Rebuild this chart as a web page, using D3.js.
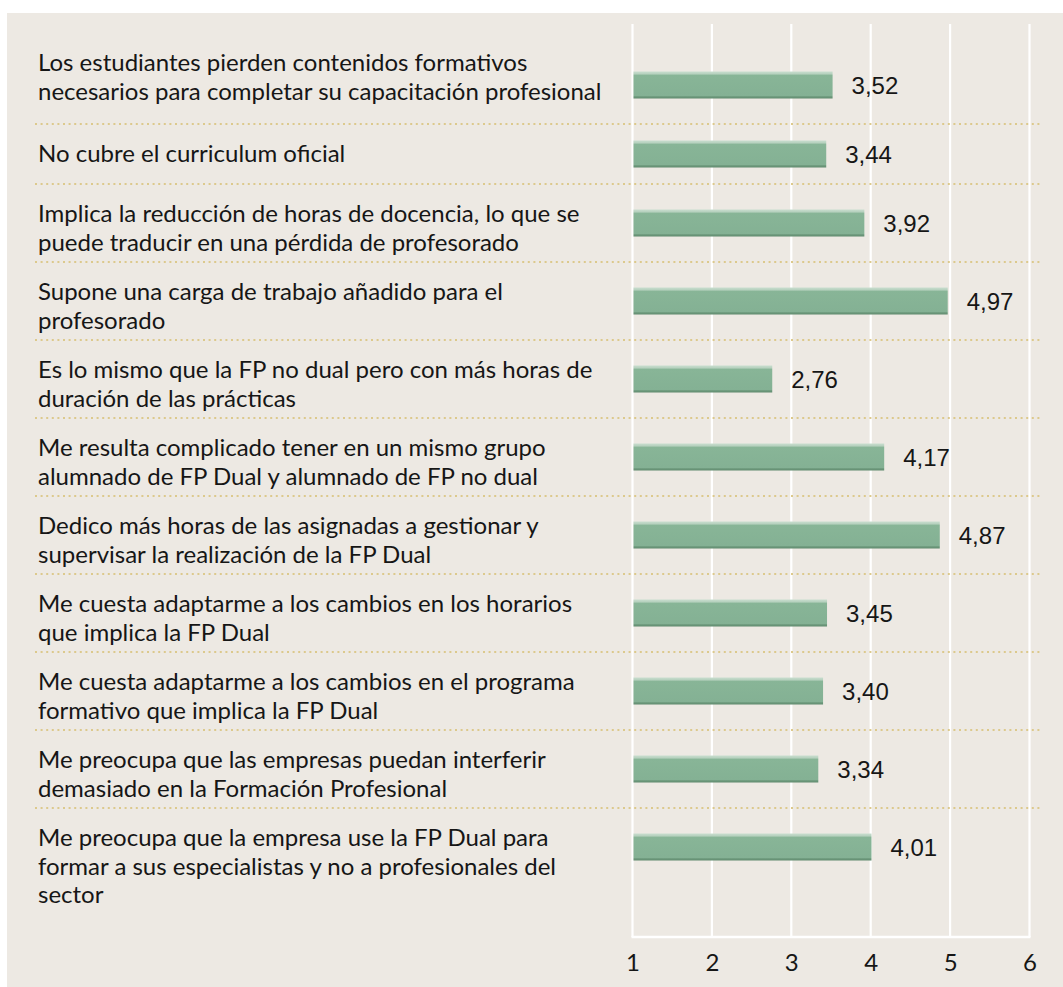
<!DOCTYPE html>
<head>
<meta charset="utf-8">
<title>FP Dual - valoracion</title>
<script src="https://d3js.org/d3.v7.min.js"></script>
<style>
body { margin: 0; background: #ffffff; }
.label { font-family: Lato, "Open Sans", sans-serif; font-size: 24px; fill: #161616; }
.value { font-family: "Liberation Sans", Arial, sans-serif; font-size: 24px; fill: #161616; }
.tick text { font-family: Lato, sans-serif; font-size: 24px; fill: #161616; }
</style>
</head>
<body>
<div id="container"></div>
<script>
//-----------------------------DATA-----------------------------//
const labels = [
  ["Los estudiantes pierden contenidos formativos", "necesarios para completar su capacitación profesional"],
  ["No cubre el curriculum oficial"],
  ["Implica la reducción de horas de docencia, lo que se", "puede traducir en una pérdida de profesorado"],
  ["Supone una carga de trabajo añadido para el", "profesorado"],
  ["Es lo mismo que la FP no dual pero con más horas de", "duración de las prácticas"],
  ["Me resulta complicado tener en un mismo grupo", "alumnado de FP Dual y alumnado de FP no dual"],
  ["Dedico más horas de las asignadas a gestionar y", "supervisar la realización de la FP Dual"],
  ["Me cuesta adaptarme a los cambios en los horarios", "que implica la FP Dual"],
  ["Me cuesta adaptarme a los cambios en el programa", "formativo que implica la FP Dual"],
  ["Me preocupa que las empresas puedan interferir", "demasiado en la Formación Profesional"],
  ["Me preocupa que la empresa use la FP Dual para", "formar a sus especialistas y no a profesionales del", "sector"]
];
const values = [3.52, 3.44, 3.92, 4.97, 2.76, 4.17, 4.87, 3.45, 3.40, 3.34, 4.01];
const tickValues = [1, 2, 3, 4, 5, 6];

//-----------------------------SVG------------------------------//
const width = 1063;
const height = 987;
const svg = d3.select("div#container").append("svg")
    .attr("width", width)
    .attr("height", height);

const defs = svg.append("defs");
const grad = defs.append("linearGradient")
    .attr("id", "barGrad")
    .attr("x1", 0).attr("y1", 0).attr("x2", 0).attr("y2", 1);
[["0%", "#c9decf"], ["9%", "#b6d1be"], ["14%", "#88b597"], ["89%", "#84b194"], ["93%", "#6f9b7e"], ["100%", "#5f8a6d"]]
  .forEach(s => grad.append("stop").attr("offset", s[0]).attr("stop-color", s[1]));

// panel
svg.append("rect")
    .attr("x", 7).attr("y", 13)
    .attr("width", width - 7).attr("height", height - 13)
    .attr("fill", "#ede9e3");

//----------------------------SCALES----------------------------//
const plotTop = 24, plotBottom = 937;
const xScale = d3.scaleLinear().domain([1, 6]).range([632.5, 1029.5]);

// row layout: one-line rows are shorter, first row has some extra room on top
const lineH = 28.5;
const rows = [];
let y = 33;
labels.forEach(function(lines, i) {
  const base = lines.length === 1 ? 60 : 78;
  const h = base + (i === 0 ? 13 : 0);
  rows.push({lines: lines, value: values[i], top: y, h: h, base: base});
  y += h;
});

//----------------------------GRIDS-----------------------------//
svg.append("g")
  .selectAll("line")
  .data(tickValues)
  .join("line")
    .attr("x1", d => xScale(d)).attr("x2", d => xScale(d))
    .attr("y1", plotTop).attr("y2", plotBottom)
    .attr("stroke", "#ffffff")
    .attr("stroke-width", 2.2);

svg.append("line")
    .attr("x1", xScale(1) - 1).attr("x2", xScale(6) + 1)
    .attr("y1", plotBottom).attr("y2", plotBottom)
    .attr("stroke", "#ffffff")
    .attr("stroke-width", 2.5);

// dotted separators between rows
svg.append("g")
  .selectAll("line")
  .data(rows.slice(0, -1))
  .join("line")
    .attr("x1", 35).attr("x2", 1040)
    .attr("y1", d => d.top + d.h).attr("y2", d => d.top + d.h)
    .attr("stroke", "#dcc98c")
    .attr("stroke-width", 2)
    .attr("stroke-dasharray", "2 3.6");

//-----------------------------BARS-----------------------------//
const barH = 27;
const fmt = d3.formatLocale({decimal: ",", thousands: ".", grouping: [3], currency: ["", "€"]}).format(".2f");

const g = svg.append("g")
  .selectAll("g")
  .data(rows)
  .join("g");

g.append("rect")
    .attr("x", xScale(1) + 1)
    .attr("y", d => d.top + d.h - d.base / 2 - barH / 2)
    .attr("width", d => xScale(d.value) - xScale(1) - 1)
    .attr("height", barH)
    .attr("fill", "url(#barGrad)");

g.append("text")
    .attr("class", "value")
    .attr("x", d => xScale(d.value) + 19)
    .attr("y", d => d.top + d.h - d.base / 2)
    .attr("dy", "0.36em")
    .text(d => fmt(d.value));

//----------------------------LABELS----------------------------//
g.append("text")
    .attr("class", "label")
    .selectAll("tspan")
    .data(d => d.lines.map((t, j) => ({t: t, y: d.top + 30 + j * lineH})))
    .join("tspan")
    .attr("x", 38)
    .attr("y", d => d.y)
    .attr("dy", "0.35em")
    .text(d => d.t);

//-----------------------------AXIS-----------------------------//
const xaxis = d3.axisBottom(xScale)
    .tickValues(tickValues)
    .tickSize(0)
    .tickPadding(0)
    .tickFormat(d3.format("d"));

svg.append("g")
    .attr("transform", "translate(0," + 963 + ")")
    .call(xaxis)
    .call(a => a.select(".domain").remove())
    .selectAll("text")
    .attr("dy", "0.35em")
    .attr("y", 0);
</script>
</body>
